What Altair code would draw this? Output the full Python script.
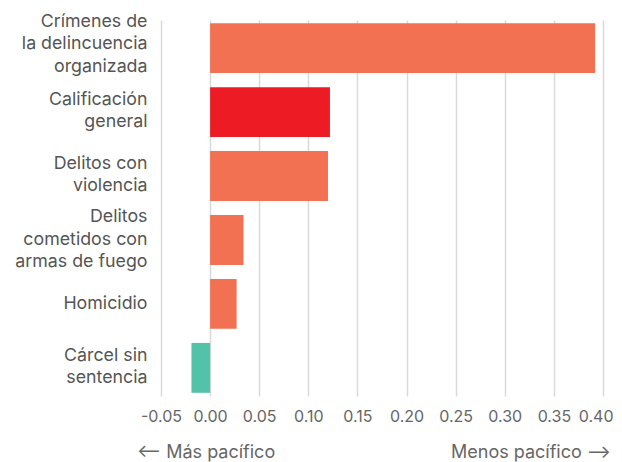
import altair as alt
import pandas as pd

categories = [
    "Crímenes de|la delincuencia|organizada",
    "Calificación|general",
    "Delitos con|violencia",
    "Delitos|cometidos con|armas de fuego",
    "Homicidio",
    "Cárcel sin|sentencia",
]
values = [0.392, 0.122, 0.120, 0.034, 0.027, -0.019]
groups = ["ind", "overall", "ind", "ind", "ind", "neg"]
tick_values = [-0.05, 0.0, 0.05, 0.10, 0.15, 0.20, 0.25, 0.30, 0.35, 0.40]

df = pd.DataFrame({"cat": categories, "val": values, "grp": groups})

FONT = "Inter"
LH = 22.5

bars = alt.Chart(df).mark_bar().encode(
    x=alt.X(
        "val:Q",
        scale=alt.Scale(domain=[-0.05, 0.40], nice=False, zero=False),
        axis=alt.Axis(
            values=tick_values,
            labelExpr="replace(format(datum.value, '.2f'), '\u2212', '-')",
            title=None,
            domain=False,
            ticks=False,
            grid=True,
            gridColor="#d9d9d9",
            gridWidth=1.5,
            labelFont=FONT,
            labelFontSize=16,
            labelColor="#666666",
            labelPadding=12,
            labelOverlap=False,
            labelFlush=False,
            labelAlign={
                "condition": {"test": "datum.value > 0.39", "value": "right"},
                "value": "center",
            },
            labelOffset={
                "condition": {"test": "datum.value > 0.39", "value": 10},
                "value": 0,
            },
        ),
    ),
    y=alt.Y(
        "cat:N",
        sort=categories,
        scale=alt.Scale(paddingInner=0.22, paddingOuter=0.05),
        axis=alt.Axis(
            title=None,
            domain=False,
            ticks=False,
            labelExpr="split(datum.label, '|')",
            labelFont=FONT,
            labelFontSize=17.8,
            labelColor="#555555",
            labelLineHeight=LH,
            labelPadding=14,
            labelLimit=200,
            labelOffset={
                "condition": [
                    {"test": "indexof(datum.label, 'Crímenes') >= 0", "value": -LH - 4},
                    {"test": "length(split(datum.label, '|')) == 3", "value": -LH},
                    {"test": "length(split(datum.label, '|')) == 2", "value": -LH / 2 - 1},
                ],
                "value": 0,
            },
        ),
    ),
    color=alt.Color(
        "grp:N",
        scale=alt.Scale(domain=["ind", "overall", "neg"], range=["#F37153", "#ED1C24", "#52C3A9"]),
        legend=None,
    ),
)

left_note = alt.Chart(alt.Data(values=[{}])).mark_text(
    align="left", baseline="middle", font=FONT, fontSize=18, color="#666666"
).encode(x=alt.value(-24), y=alt.value(433), text=alt.value("\u27f5 Más pacífico"))

right_note = alt.Chart(alt.Data(values=[{}])).mark_text(
    align="right", baseline="middle", font=FONT, fontSize=18, color="#666666"
).encode(x=alt.value(450), y=alt.value(433), text=alt.value("Menos pacífico \u27f6"))

chart = alt.layer(bars, left_note, right_note).properties(
    width=442,
    height=376,
    background="white",
    autosize=alt.AutoSizeParams(type="none"),
    padding={"left": 153, "top": 12, "right": 11, "bottom": 66},
).configure_view(stroke=None)

chart.save("out.html", embed_options={"renderer": "svg", "actions": False})
